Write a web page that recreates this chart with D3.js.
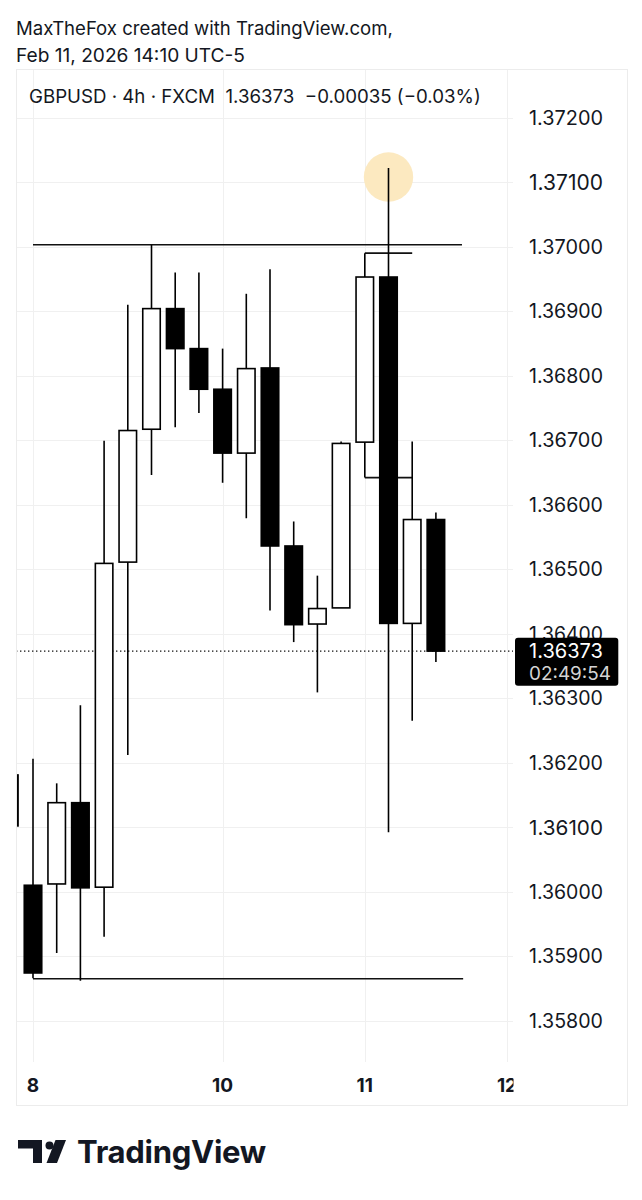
<!DOCTYPE html>
<html><head><meta charset="utf-8">
<script src="https://cdn.jsdelivr.net/npm/d3@7"></script>
<style>html,body{margin:0;padding:0;background:#fff;}svg{display:block;}text{font-family:Inter,"Noto Sans",sans-serif;}</style>
</head><body>
<script>
// ---- data ----
const candleIndex = [0,1,2,3,4,5,6,7,8,9,10,11,12,13,14,15,16,17,18];
const opens  = [1.36181,1.36010,1.36012,1.36138,1.36007,1.36511,1.36717,1.36904,1.36842,1.36779,1.36680,1.36812,1.36536,1.36415,1.36440,1.36697,1.36953,1.36416,1.36577];
const highs  = [1.36195,1.36206,1.36168,1.36289,1.36699,1.36910,1.37003,1.36960,1.36960,1.36842,1.36927,1.36965,1.36574,1.36490,1.36698,1.36990,1.37122,1.36698,1.36588];
const lows   = [1.36085,1.35866,1.35905,1.35862,1.35930,1.36212,1.36646,1.36720,1.36742,1.36634,1.36579,1.36436,1.36387,1.36309,1.36440,1.36642,1.36092,1.36265,1.36356];
const closes = [1.36102,1.35874,1.36138,1.36006,1.36509,1.36715,1.36904,1.36842,1.36779,1.36680,1.36811,1.36536,1.36414,1.36439,1.36695,1.36953,1.36416,1.36577,1.36373];
const priceTicks = [1.358,1.359,1.360,1.361,1.362,1.363,1.364,1.365,1.366,1.367,1.368,1.369,1.370,1.371,1.372];
const dayTickIndex = [1,9,15,21];
const dayTickLabels = ["8","10","11","12"];
// drawn horizontal levels: [value, fromIndex, toIndex]
const levelValues = [1.37003, 1.35865, 1.36990, 1.36642];
const levelFrom   = [1, 1, 15, 15];
const levelTo     = [19.1, 19.15, 17, 17];
const highlightIndex = 16, highlightValue = 1.37108;
const lastPrice = 1.36373, countdown = "02:49:54";
const headerLines = ["MaxTheFox created with TradingView.com,", "Feb 11, 2026 14:10 UTC-5"];
const legendText = "GBPUSD · 4h · FXCM  1.36373  −0.00035 (−0.03%)";

// ---- layout ----
const W = 642, H = 1200;
const plot = {l:16, r:513, t:69, b:1062};
const axisRight = 627, frameBottom = 1105;
const svg = d3.select("body").append("svg").attr("width",W).attr("height",H);

const x = d3.scaleLinear().domain([1,21]).range([33,507]);
const y = d3.scaleLinear().domain([1.358,1.372]).range([1020.7,117.7]);
const bw = 17.5;

function fit(sel, target){
  const n = sel.node(); const fs = parseFloat(sel.attr("font-size"));
  const len = n.getComputedTextLength();
  if (len>0) sel.attr("font-size", fs*target/len);
}

// header
const h1 = svg.append("text").attr("x",16).attr("y",35).attr("font-size",18.5).attr("fill","#131722").text(headerLines[0]);
fit(h1, 377);
const h2 = svg.append("text").attr("x",16).attr("y",61.7).attr("font-size",18.5).attr("fill","#131722").text(headerLines[1]);
fit(h2, 229);

// frame
const frame = svg.append("g").attr("stroke","#ececec").attr("stroke-width",1).attr("fill","none");
frame.append("rect").attr("x",plot.l+0.5).attr("y",plot.t+0.5).attr("width",axisRight-plot.l).attr("height",frameBottom-plot.t);

// clip
svg.append("clipPath").attr("id","pc").append("rect").attr("x",plot.l+1).attr("y",plot.t+1).attr("width",plot.r-plot.l-1).attr("height",plot.b-plot.t-1);
const pg = svg.append("g").attr("clip-path","url(#pc)");

// grid
pg.append("g").selectAll("line").data(priceTicks).join("line")
  .attr("x1",plot.l).attr("x2",plot.r).attr("y1",d=>Math.round(y(d))+0.5).attr("y2",d=>Math.round(y(d))+0.5)
  .attr("stroke","#f0f0f0").attr("stroke-width",1);
pg.append("g").selectAll("line").data(dayTickIndex).join("line")
  .attr("x1",d=>Math.round(x(d))+0.5).attr("x2",d=>Math.round(x(d))+0.5).attr("y1",plot.t).attr("y2",plot.b)
  .attr("stroke","#f0f0f0").attr("stroke-width",1);

// highlight circle
pg.append("circle").attr("cx",x(highlightIndex)).attr("cy",y(highlightValue)).attr("r",24.7)
  .attr("fill","#fce9c0");

// levels
pg.append("g").selectAll("line").data(levelValues).join("line")
  .attr("x1",(d,i)=>x(levelFrom[i])).attr("x2",(d,i)=>x(levelTo[i]))
  .attr("y1",d=>y(d)).attr("y2",d=>y(d))
  .attr("stroke","#111").attr("stroke-width",1.6);

// last price dotted line
pg.append("line").attr("x1",plot.l).attr("x2",plot.r).attr("y1",y(lastPrice)).attr("y2",y(lastPrice))
  .attr("stroke","#111").attr("stroke-width",1.4).attr("stroke-dasharray","1.4 2.6");

// candles
const cg = pg.append("g");
cg.selectAll("line").data(candleIndex).join("line")
  .attr("x1",i=>x(i)).attr("x2",i=>x(i)).attr("y1",i=>y(highs[i])).attr("y2",i=>y(lows[i]))
  .attr("stroke","#000").attr("stroke-width",1.6);
cg.selectAll("rect").data(candleIndex).join("rect")
  .attr("x",i=>x(i)-bw/2).attr("width",bw)
  .attr("y",i=>y(Math.max(opens[i],closes[i])))
  .attr("height",i=>Math.max(1,Math.abs(y(opens[i])-y(closes[i]))))
  .attr("fill",i=>closes[i]>=opens[i]?"#fff":"#000")
  .attr("stroke","#000").attr("stroke-width",1.6);

// legend
const lg = svg.append("text").attr("x",29).attr("y",103.3).attr("font-size",18).attr("fill","#131722")
  .style("white-space","pre").text(legendText);
fit(lg, 452);

// price axis labels
const pa = svg.append("g");
pa.selectAll("text").data(priceTicks).join("text")
  .attr("x",529).attr("y",d=>y(d)).attr("dy","0.36em").attr("font-size",18.5).attr("fill","#131722")
  .text(d=>d3.format(".5f")(d));
pa.selectAll("text").each(function(){ fit(d3.select(this), 74); });

// last price box
svg.append("rect").attr("x",515).attr("y",637.7).attr("width",103.3).attr("height",48).attr("rx",3).attr("fill","#000");
const lp = svg.append("text").attr("x",529).attr("y",651.2).attr("dy","0.36em").attr("font-size",18.5).attr("fill","#fff").text(d3.format(".5f")(lastPrice));
fit(lp, 74);
const cd = svg.append("text").attr("x",529).attr("y",673.5).attr("dy","0.36em").attr("font-size",18.5).attr("fill","#d4d4d4").text(countdown);
fit(cd, 82);

// time axis labels (clipped at the price-axis edge, like the reference)
svg.append("clipPath").attr("id","tc").append("rect").attr("x",plot.l).attr("y",plot.b).attr("width",513.5-plot.l).attr("height",frameBottom-plot.b);
svg.append("g").attr("clip-path","url(#tc)").selectAll("text").data(dayTickIndex).join("text")
  .attr("x",d=>x(d)).attr("y",1085).attr("dy","0.36em").attr("text-anchor","middle")
  .attr("font-size",19).attr("font-weight",700).attr("fill","#131722")
  .text((d,i)=>dayTickLabels[i]);

// TradingView logo
const logo = svg.append("g").attr("fill","#131722");
logo.append("path").attr("d","M18 1140 H42 V1163 H33 V1148.5 H18 Z");
logo.append("circle").attr("cx",49.5).attr("cy",1145.5).attr("r",4);
logo.append("path").attr("d","M55.5 1140 H66 L57 1163 H46.5 Z");
const lt = svg.append("text").attr("x",77).attr("y",1163).attr("font-size",31).attr("font-weight",700).attr("fill","#131722").attr("letter-spacing","-0.3").text("TradingView");
fit(lt, 189);
</script>
</body></html>
